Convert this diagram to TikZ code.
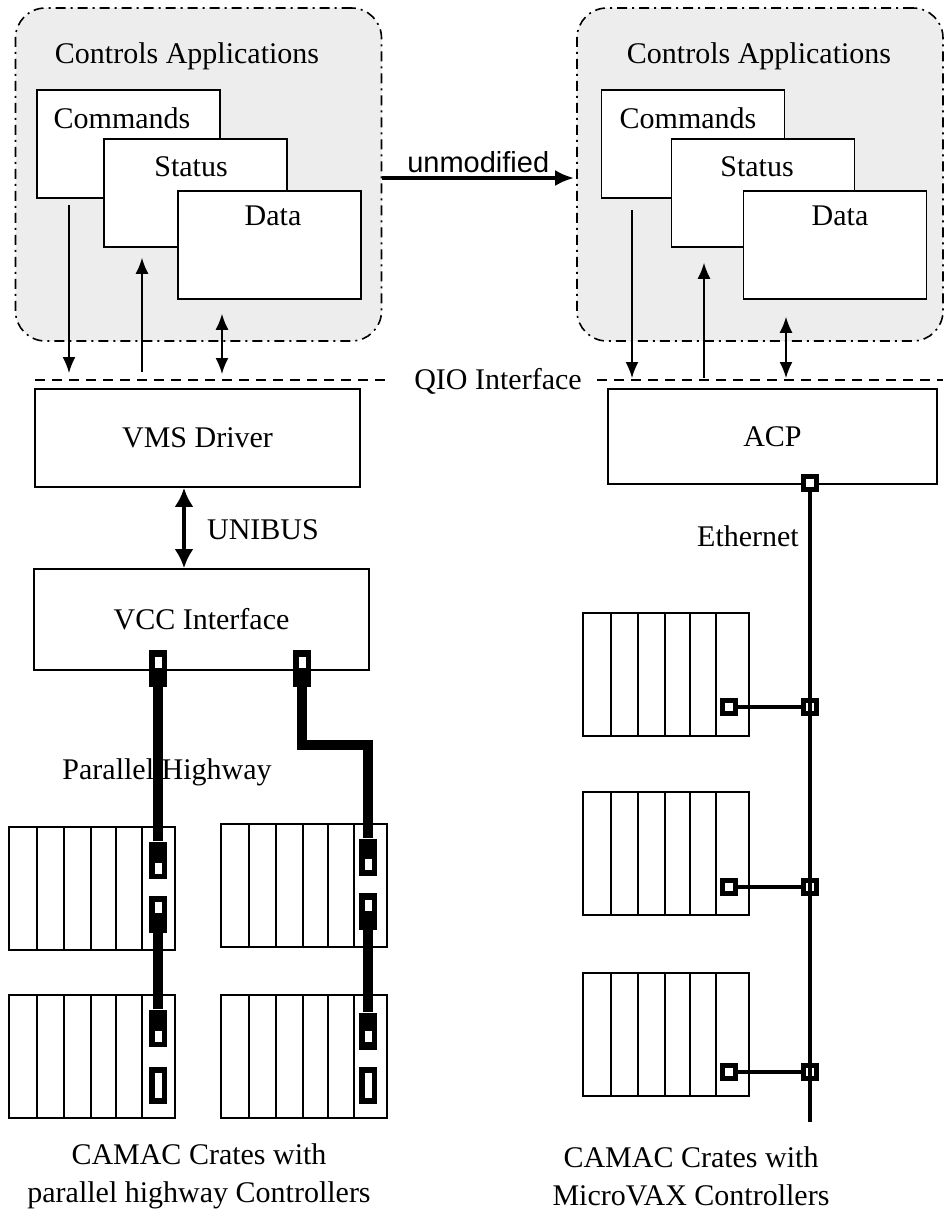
\documentclass[tikz,border=0pt]{standalone}
\usepackage{fontspec}
\setmainfont{Liberation Serif}
\setsansfont{Liberation Sans}
\usetikzlibrary{arrows.meta}

\tikzset{
  app/.style={draw, line width=1.6pt, dash pattern=on 10pt off 5pt on 2pt off 5pt,
    fill=gray!14, rounded corners=30pt, minimum width=366pt, minimum height=333pt},
  tab/.style={draw, fill=white, line width=1.6pt, minimum width=183pt, minimum height=108pt},
  unit/.style={draw, fill=white, line width=1.6pt},
  link/.style={line width=1.6pt, >={Latex[length=16pt,width=13pt]}},
  bus/.style={line width=4.5pt, >={Latex[length=19pt,width=19pt]}},
  qio/.style={line width=1.6pt, dash pattern=on 10pt off 7pt},
  crate/.style={line width=1.5pt},
  plug/.style={fill, minimum width=18pt, minimum height=37pt, inner sep=0pt},
  cable/.style={line width=10pt},
  tap/.style={draw, fill=white, line width=5pt, minimum size=13pt, inner sep=0pt},
  ether/.style={line width=4.5pt},
}

\begin{document}
\begin{tikzpicture}[yscale=-1, x=1pt, y=1pt, font=\fontsize{30}{38}\selectfont]
    \useasboundingbox (0,0) rectangle (943,1213);

    % application side
    \node [app] (appL) at (198.5,174.5) {};
    \node [app] (appR) at (760,174.5) {};
    \node (titleL) at (187,56) {Controls Applications};
    \node (titleR) at (759,56) {Controls Applications};

    \node [tab] (cmdL) at (128.5,144) {};
    \node (cmdLt) at (122,118) {Commands};
    \node [tab] (statL) at (195.5,193) {};
    \node (statLt) at (191,167) {Status};
    \node [tab] (dataL) at (269.5,245) {};
    \node (dataLt) at (273,216) {Data};

    \node [tab] (cmdR) at (693,144) {};
    \node (cmdRt) at (688,118) {Commands};
    \node [tab] (statR) at (763,193) {};
    \node (statRt) at (757,167) {Status};
    \node [tab] (dataR) at (835,245) {};
    \node (dataRt) at (840,216) {Data};

    \coordinate (um) at (480,178);
    \draw [link, line width=4pt, ->, >={Latex[length=19pt,width=16pt]}] (appL.east |- um) -- node [above, font=\sffamily\fontsize{29}{34}\selectfont] (unmod) {unmodified} ([xshift=-2pt]appR.west |- um) ;

    % QIO line
    \node (qio) at (498,381) {QIO Interface};
    \coordinate (qioL) at (35,380);
    \coordinate (qioR) at (943,380);
    \draw [qio, shorten >=24pt] (qioL) -- (qio.west |- qioL) ;
    \draw [qio, shorten <=12pt] (qio.east |- qioR) -- (qioR) ;
    \foreach \i/\qx in {1/69, 2/142, 3/222, 4/632, 5/704, 6/786}
        \coordinate (q\i) at (\qx,380);

    \draw [link, ->, shorten <=6pt, shorten >=7pt] (cmdL.south -| q1) -- (q1) ;
    \draw [link, <-, shorten <=10pt, shorten >=8pt] (statL.south -| q2) -- (q2) ;
    \draw [link, <->, shorten <=14pt, shorten >=6pt] (dataL.south -| q3) -- (q3) ;
    \draw [link, ->, shorten <=11pt, shorten >=2pt] (cmdR.south -| q4) -- (q4) ;
    \draw [link, <-, shorten <=15pt, shorten >=2pt] (statR.south -| q5) -- (q5) ;
    \draw [link, <->, shorten <=17pt, shorten >=2pt] (dataR.south -| q6) -- (q6) ;

    % drivers
    \node [unit, minimum width=325pt, minimum height=98pt] (vms) at (197.5,438) {VMS Driver};
    \node [unit, minimum width=329pt, minimum height=95pt] (acp) at (772.5,436.5) {ACP};
    \node [unit, minimum width=335pt, minimum height=101pt] (vcc) at (201.5,619.5) {VCC Interface};

    \coordinate (ub) at (184,530);
    \draw [bus, <->] (vms.south -| ub) -- (vcc.north -| ub) ;
    \node (unibus) at (263,530) {UNIBUS};

    % CAMAC crates
    \foreach \cx/\cy in {9/827, 221/824, 9/995, 221/995, 583/613, 583/792, 583/973} {
        \draw [crate] (\cx,\cy) rectangle ++(166,123) ;
        \foreach \d in {28,55,82,107,133}
            \draw [crate] (\cx+\d,\cy) -- ++(0,123) ;
    }

    % parallel highway
    \foreach \n/\px/\py/\wy/\wh in {v1/158/668/-6/11, v2/302/668/-6/11,
            a1/158/860/8/11, a2/158/914/-7/11, a3/158/1028/8/11, a4/158/1085/0/25,
            b1/368/857/7/11, b2/368/911/-6/11, b3/368/1031/5/11, b4/368/1085/0/25} {
        \node [plug] (\n) at (\px,\py) {};
        \fill [white] (\px-3.5,\py+\wy-\wh/2) rectangle ++(7,\wh) ;
    }
    \coordinate (jog) at (302,745);
    \draw [cable] (v1.south) -- (a1.north) ;
    \draw [cable] (a2.south) -- (a3.north) ;
    \draw [cable] (v2.south) -- (jog) -| (b1.north) ;
    \draw [cable] (b2.south) -- (b3.north) ;
    \node (hwy) at (167,772) {Parallel Highway};

    % ethernet
    \node [tap] (acptap) at (810,483) {};
    \foreach \i/\ty in {1/707, 2/887, 3/1072} {
        \node [tap] (ct\i) at (729,\ty) {};
        \node [tap] (bt\i) at (810,\ty) {};
        \draw [ether] (ct\i) -- (bt\i) ;
    }
    \coordinate (busend) at (810,1122);
    \draw [ether] (acptap.south) -- (busend) ;
    \node (eth) at (748,536) {Ethernet};

    \node [align=center] (capL) at (199,1176) {CAMAC Crates with\\parallel highway Controllers};
    \node [align=center] (capR) at (691,1176) {CAMAC Crates with\\MicroVAX Controllers};
\end{tikzpicture}
\end{document}
